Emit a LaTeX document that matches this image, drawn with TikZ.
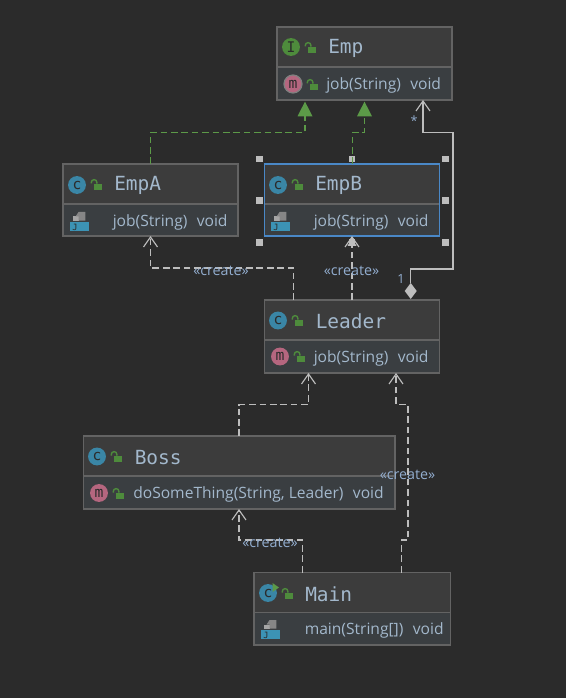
\documentclass[tikz,border=0pt]{standalone}
\usepackage{fontspec}
\setmainfont{Open Sans}
\newfontfamily\monof{DejaVu Sans Mono}
\usetikzlibrary{arrows.meta}
\definecolor{bgc}{HTML}{2B2B2B}
\definecolor{headc}{HTML}{3C3C3C}
\definecolor{rowc}{HTML}{3A3E41}
\definecolor{edgec}{HTML}{636363}
\definecolor{selc}{HTML}{4A88C7}
\definecolor{txtc}{HTML}{A3B8CC}
\definecolor{lblc}{HTML}{93AED0}
\definecolor{linec}{HTML}{BDBDBD}
\definecolor{greenc}{HTML}{5C9A48}
\definecolor{iconblue}{HTML}{3A86A6}
\definecolor{iconpink}{HTML}{B5667F}
\definecolor{icongreen}{HTML}{4E8B3C}
\definecolor{jblue}{HTML}{3C93B5}
\tikzset{
  headfill/.style={fill=headc,inner sep=0pt,outer sep=0pt,rectangle},
  title/.style={anchor=west,inner sep=0pt,yshift=-1pt,text=txtc,font=\monof\fontsize{14.6}{16}\selectfont},
  member/.style={anchor=west,inner sep=0pt,yshift=-1.3pt,text=txtc,font=\fontsize{11.7}{14}\selectfont},
  iconbase/.style={circle,inner sep=0pt,minimum size=13.4pt,text=bgc,font=\monof\fontsize{11}{11}\selectfont},
  iconc/.style={iconbase,fill=iconblue},
  iconm/.style={iconbase,fill=iconpink},
  iconi/.style={iconbase,fill=icongreen},
  dep/.style={draw=linec,line width=.85pt,dash pattern=on 5pt off 2.8pt,-{Straight Barb[length=7.5pt,width=10.5pt,line width=.85pt]}},
  assoc/.style={draw=linec,line width=.85pt,-{Straight Barb[length=7.5pt,width=10.5pt,line width=.85pt]}},
  real/.style={draw=greenc,line width=.95pt,dash pattern=on 5pt off 2.8pt,-{Triangle[length=11pt,width=11pt]}},
  cname/.style={text=lblc,inner sep=0pt,font=\fontsize{10.7}{12}\selectfont},
  handle/.style={rectangle,fill=linec,inner sep=0pt,minimum size=4.6pt},
  lock/.pic={
    \fill[icongreen] (-2.3,-1.3) rectangle (6,4.6);
    \draw[icongreen,line width=1.05pt] (-4.7,-1.5) -- (-4.7,-2.6) arc[start angle=180,end angle=360,radius=2.8] -- (.9,-1.3);
  },
  jicon/.pic={
    \fill[jblue] (0,10.4) rectangle (19,19);
    \fill[gray!70] (3,4.5) rectangle (9,8.6);
    \fill[gray!95!white] (8.5,0) -- (15.3,0) -- (15.3,8.6) -- (8.5,8.6) -- (8.5,4.5) -- (5.5,4.5) -- cycle;
    \node[inner sep=0pt,text=bgc,font=\monof\fontsize{6.5}{7}\selectfont] at (5,15) {J};
  }
}
\newcommand{\umlbox}[7]{%
  \node[headfill,minimum width={(#4-#2)*.75pt},minimum height={(#5-#3)*.75pt}] (#1) at ({(#2+#4)/2},{(#3+#5)/2}) {};
  \fill[rowc] (#2,#6) rectangle (#4,#5);
  \draw[edgec,line width=.85pt] (#2,#6) -- (#4,#6);
  \draw[#7,line width=.9pt] (#1.north west) rectangle (#1.south east);
}
\begin{document}
\begin{tikzpicture}[x=.75pt,y=-.75pt]
\useasboundingbox[fill=bgc] (0,0) rectangle (566,698);

\umlbox{emp}{277}{27}{452}{100}{67}{edgec}
\umlbox{empA}{63}{164}{238}{236}{204}{edgec}
\umlbox{empB}{264.5}{164}{439.5}{236}{204}{selc}
\umlbox{leader}{264.5}{300}{439.5}{373}{340}{edgec}
\umlbox{boss}{83.5}{436}{395}{509}{476}{edgec}
\umlbox{mainc}{254}{572.5}{450.5}{645}{612.5}{edgec}

% Emp
\node[iconi] (empI) at (291,47) {I};
\pic at (310,48) {lock};
\node[title] (empT) at (328,47) {Emp};
\node[circle,draw=gray,line width=.9pt,inner sep=0pt,minimum size=13.5pt,fill=iconpink,text=bgc,font=\monof\fontsize{11}{11}\selectfont] (empM) at (293,84) {m};
\pic at (312,85) {lock};
\node[member] (empJ) at (326,84) {job(String)\hspace{.6em}void};
% EmpA
\node[iconc] (aI) at (77,185) {c};
\pic at (96,185) {lock};
\node[title] (aT) at (114,184.5) {EmpA};
\pic at (70,212) {jicon};
\node[member] (aJ) at (112.5,221) {job(String)\hspace{.6em}void};
% EmpB
\node[iconc] (bI) at (278,185) {c};
\pic at (297,185) {lock};
\node[title] (bT) at (315,184.5) {EmpB};
\pic at (271,212) {jicon};
\node[member] (bJ) at (313.5,221) {job(String)\hspace{.6em}void};
% Leader
\node[iconc] (lI) at (278,320.5) {c};
\pic at (297,321) {lock};
\node[title] (lT) at (315.5,320) {Leader};
\node[iconm] (lM) at (280,356.5) {m};
\pic at (299,357) {lock};
\node[member] (lJ) at (313.5,357) {job(String)\hspace{.6em}void};
% Boss
\node[iconc] (sI) at (97,456.5) {c};
\pic at (116,457) {lock};
\node[title] (sT) at (134.5,456) {Boss};
\node[iconm] (sM) at (99,493) {m};
\pic at (118,494) {lock};
\node[member] (sJ) at (133,493) {doSomeThing(String, Leader)\hspace{.6em}void};
% Main
\node[iconc] (mI) at (268,593) {c};
\fill[greenc] (272.5,583) -- (279,587.5) -- (272.5,592) -- cycle;
\pic at (287,594) {lock};
\node[title] (mT) at (305,592.5) {Main};
\pic at (261,620) {jicon};
\node[member] (mJ) at (304.5,629) {main(String[])\hspace{.6em}void};

% selection handles
\node[handle] (h1) at (259.5,159) {};
\node[handle] (h2) at (352,159) {};
\node[handle] (h3) at (445.5,159) {};
\node[handle] (h4) at (259.5,200.5) {};
\node[handle] (h5) at (445.5,200.5) {};
\node[handle] (h6) at (259.5,242.5) {};
\node[handle] (h7) at (352,242.5) {};
\node[handle] (h8) at (445.5,242.5) {};

% realisations
\coordinate (r1) at (150.5,132.5);
\coordinate (r2) at (305,132.5);
\coordinate (r3) at (352.3,132.5);
\coordinate (r4) at (364.5,132.5);
\draw[real] (empA.north -| r1) -- (r1) -- (r2) -- ([yshift=-1.2pt]emp.south -| r2);
\draw[real] (empB.north -| r3) -- (r3) -- (r4) -- ([yshift=-1.2pt]emp.south -| r4);

% aggregation
\coordinate (a0) at (410.7,283);
\coordinate (a1) at (410.7,269);
\coordinate (a2) at (453,269);
\coordinate (a3) at (453,132.5);
\coordinate (a4) at (423,132.5);
\draw[assoc] (a0) -- (a1) -- (a2) -- (a3) -- (a4) -- (emp.south -| a4);
\fill[linec] (a0) -- ++(6,8) -- ++(-6,8) -- ++(-6,-8) -- cycle;
\node[text=lblc,inner sep=0pt,font=\fontsize{9.5}{11}\selectfont] (star) at (414,120.5) {*};
\node[text=lblc,inner sep=0pt,font=\fontsize{9.5}{11}\selectfont] (one) at (401,279) {1};

% dependencies
\coordinate (d1) at (293.5,268);
\coordinate (d2) at (150.5,268);
\draw[dep] (leader.north -| d1) -- (d1) -- (d2) -- (empA.south -| d2);
\coordinate (d3) at (352,268);
\draw[dep] (leader.north -| d3) -- (empB.south -| d3);
\fill[linec] (352,238) -- (356.5,246) -- (347.5,246) -- cycle;
\coordinate (d4) at (239,404.5);
\coordinate (d5) at (308.5,404.5);
\draw[dep] (boss.north -| d4) -- (d4) -- (d5) -- (leader.south -| d5);
\coordinate (d6) at (401.5,540);
\coordinate (d7) at (408,540);
\coordinate (d8) at (408,404.5);
\coordinate (d9) at (396,404.5);
\draw[dep] (mainc.north -| d6) -- (d6) -- (d7) -- (d8) -- (d9) -- (leader.south -| d9);
\coordinate (d10) at (302.5,540);
\coordinate (d11) at (239,540);
\draw[dep] (mainc.north -| d10) -- (d10) -- (d11) -- (boss.south -| d11);

\node[cname] (c1) at (221,271) {«create»};
\node[cname] (c2) at (351.5,271) {«create»};
\node[cname] (c3) at (407.5,475) {«create»};
\node[cname] (c4) at (270,543) {«create»};
\end{tikzpicture}
\end{document}
